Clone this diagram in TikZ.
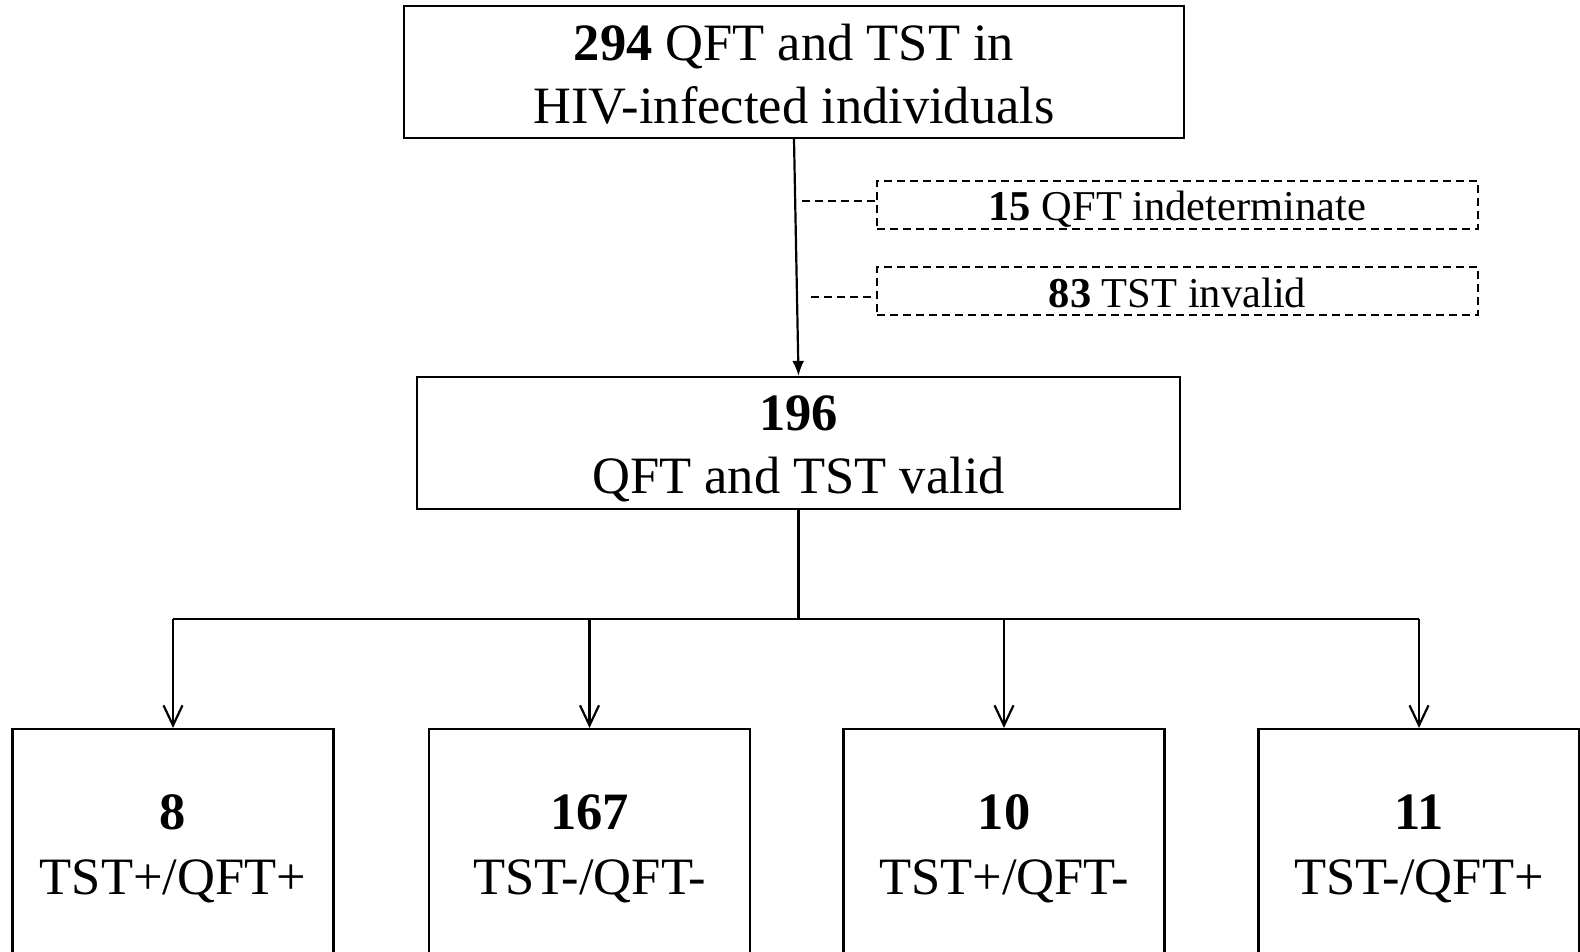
\documentclass[tikz,border=0pt]{standalone}
\usepackage{fontspec}
\setmainfont{Liberation Serif}
\usetikzlibrary{arrows.meta}
\begin{document}
\begin{tikzpicture}[x=1pt,y=-1pt,
  box/.style={draw,line width=2.2pt,rectangle,inner sep=0pt,align=center,
    font=\fontsize{52.5}{63}\selectfont},
  dbox/.style={draw,line width=2pt,dash pattern=on 8pt off 5pt,rectangle,inner sep=0pt,
    align=center,minimum width=601pt,minimum height=48pt,font=\fontsize{42.5}{50}\selectfont,
    text depth=0pt},
  leaf/.style={box,minimum width=321pt,minimum height=232pt,font=\fontsize{52.5}{65}\selectfont,
    text height=98pt,text depth=0pt},
  conn/.style={line width=2.2pt},
  dconn/.style={line width=2pt,dash pattern=on 8pt off 5pt},
  mainarrow/.style={conn,-{Latex[length=15pt,width=12pt]}},
  leafarrow/.style={conn,-{Straight Barb[length=20pt,width=19pt]}}]
\useasboundingbox (0,0) rectangle (1580,952);
\clip (0,0) rectangle (1580,952);
\fill[white] (0,0) rectangle (1580,952);

\node[box,minimum width=780pt,minimum height=132pt,text height=102.8pt,text depth=0pt] (top) at (794,72)
  {\textbf{294} QFT and TST in\\HIV-infected individuals};
\node[box,minimum width=763pt,minimum height=132pt,text height=100pt,text depth=0pt] (valid) at (798.5,443)
  {\textbf{196}\\QFT and TST valid};
\node[dbox,text height=31.4pt] (qi) at (1177.5,205) {\textbf{15} QFT indeterminate};
\node[dbox,text height=32.6pt] (ti) at (1177.5,291) {\textbf{83} TST invalid};

\node[leaf] (b1) at (173,845) {\textbf{8}\\TST+/QFT+};
\node[leaf] (b2) at (589.5,845) {\textbf{167}\\TST-/QFT-};
\node[leaf] (b3) at (1004,845) {\textbf{10}\\TST+/QFT-};
\node[leaf] (b4) at (1419,845) {\textbf{11}\\TST-/QFT+};

\draw[mainarrow] (top.south) -- (valid.north);
\coordinate (c1) at (802,201);
\coordinate (c2) at (811,297);
\draw[dconn] (c1) -- (c1 -| qi.west);
\draw[dconn] (c2) -- (c2 -| ti.west);

\coordinate (j) at (798.5,619);
\draw[conn] (valid.south) -- (j);
\draw[conn] (b1.north |- j) -- (b4.north |- j);
\draw[leafarrow] (b1.north |- j) -- (b1.north);
\draw[leafarrow] (b2.north |- j) -- (b2.north);
\draw[leafarrow] (b3.north |- j) -- (b3.north);
\draw[leafarrow] (b4.north |- j) -- (b4.north);
\end{tikzpicture}
\end{document}
